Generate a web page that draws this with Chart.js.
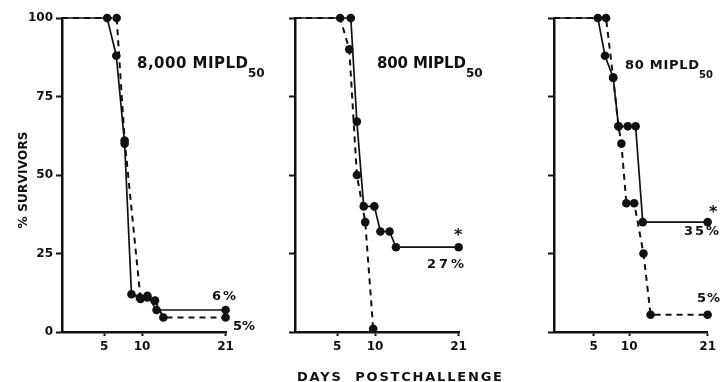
<!DOCTYPE html>
<html>
<head>
<meta charset="utf-8">
<script src="https://cdn.jsdelivr.net/npm/chart.js@4"></script>
<style>
  html, body { margin: 0; padding: 0; background: #fff; }
  #wrap { position: relative; width: 720px; height: 382px; }
  #wrap canvas { position: absolute; left: 0; top: 0; }
</style>
</head>
<body>
<div id="wrap">
  <canvas id="c1" width="720" height="382"></canvas>
  <canvas id="c2" width="720" height="382"></canvas>
  <canvas id="c3" width="720" height="382"></canvas>
</div>
<script>
// days postchallenge / % survivors
const xTicks = [5, 10, 21];
const yTicks = [0, 25, 50, 75, 100];

// 8,000 MIPLD50
const p1SolidDays = [5.4, 6.6, 7.7, 8.6, 9.7, 10.7, 11.9, 21];
const p1SolidPct  = [100, 88, 60, 12, 11, 11.5, 7, 7];
const p1DashDays  = [6.65, 7.7, 9.8, 10.7, 11.7, 12.8, 21];
const p1DashPct   = [100, 61, 10.5, 11, 10, 4.6, 4.6];

// 800 MIPLD50
const p2SolidDays = [6.8, 7.6, 8.5, 9.9, 10.7, 11.9, 12.75, 21];
const p2SolidPct  = [100, 67, 40, 40, 32, 32, 27, 27];
const p2DashDays  = [5.4, 6.6, 7.6, 8.7, 9.75];
const p2DashPct   = [100, 90, 50, 35, 1];

// 80 MIPLD50
const p3SolidDays = [5.6, 6.6, 7.75, 8.5, 9.8, 10.9, 11.9, 21];
const p3SolidPct  = [100, 88, 81, 65.5, 65.5, 65.5, 35, 35];
const p3DashDays  = [6.75, 7.75, 8.5, 8.9, 9.6, 10.7, 12.0, 13.0, 21];
const p3DashPct   = [100, 81, 65.5, 60, 41, 41, 25, 5.5, 5.5];

const X_MIN = -0.55, X_MAX = 21.05;
const INK = '#111';
const FONT = '"DejaVu Sans"';

// curves start at the y axis at 100%
function pts(days, pct) {
  return [{ x: X_MIN, y: 100 }].concat(days.map((d, i) => ({ x: d, y: pct[i] })));
}

function lineSet(days, pct, dashed) {
  const data = pts(days, pct);
  return {
    data: data,
    borderColor: INK,
    borderWidth: dashed ? 2 : 1.7,
    borderDash: dashed ? [6, 5] : [],
    pointRadius: data.map((p, i) => i === 0 ? 0 : 4.3),
    pointBackgroundColor: INK,
    pointBorderWidth: 0,
    tension: 0,
    clip: false
  };
}

function drawLabel(ctx, l) {
  ctx.save();
  ctx.fillStyle = INK;
  ctx.font = `bold ${l.size}px ${FONT}`;
  ctx.textBaseline = 'alphabetic';
  ctx.textAlign = 'left';
  ctx.letterSpacing = '0px';
  const w = ctx.measureText(l.text).width;
  const n = l.text.length;
  const gap = l.w && n > 1 ? (l.w - w) / (n - 1) : 0;
  ctx.letterSpacing = gap + 'px';
  if (l.rot) {
    ctx.translate(l.x, l.y);
    ctx.rotate(-Math.PI / 2);
    ctx.fillText(l.text, -(w + (n - 1) * gap) / 2, 0);
  } else {
    ctx.fillText(l.text, l.x, l.y);
  }
  if (l.sub) {
    ctx.letterSpacing = '0px';
    ctx.font = `bold ${l.size - 3}px ${FONT}`;
    ctx.fillText(l.sub, l.x + w + (n - 1) * gap, l.y + 9);
  }
  ctx.restore();
}

function textPlugin(labels) {
  return {
    id: 'texts',
    afterDraw(chart) {
      labels.forEach(l => drawLabel(chart.ctx, l));
    }
  };
}

function makeChart(id, left, datasets, labels, showYLabels) {
  const tickFont = { family: FONT, size: 12, weight: 'bold' };
  new Chart(document.getElementById(id), {
    type: 'line',
    data: { datasets: datasets },
    options: {
      responsive: false,
      animation: false,
      events: [],
      layout: { padding: { left: left - 40, right: 720 - (left + 164), top: 18, bottom: 0 } },
      plugins: { legend: { display: false }, tooltip: { enabled: false } },
      scales: {
        x: {
          type: 'linear', min: X_MIN, max: X_MAX,
          afterBuildTicks: s => { s.ticks = xTicks.map(v => ({ value: v })); },
          afterFit: s => { s.height = 50; },
          grid: { drawOnChartArea: false, drawTicks: true, tickLength: 4, tickColor: INK, tickWidth: 2 },
          border: { display: true, color: INK, width: 2.5 },
          ticks: { color: INK, font: tickFont, padding: 4, maxRotation: 0 }
        },
        y: {
          type: 'linear', min: 0, max: 100,
          afterBuildTicks: s => { s.ticks = yTicks.map(v => ({ value: v })); },
          afterFit: s => { s.width = 40; },
          grid: { drawOnChartArea: false, drawTicks: true, tickLength: 6, tickColor: INK, tickWidth: 2 },
          border: { display: true, color: INK, width: 2.5 },
          ticks: { color: showYLabels ? INK : 'rgba(0,0,0,0)', font: tickFont, padding: 3 }
        }
      }
    },
    plugins: [textPlugin(labels)]
  });
}

makeChart('c1', 62, [
  lineSet(p1SolidDays, p1SolidPct, false),
  lineSet(p1DashDays, p1DashPct, true)
], [
  { text: '8,000 MIPLD', x: 137, y: 68, size: 15, w: 111, sub: '50' },
  { text: '6%', x: 212, y: 300, size: 13, w: 24 },
  { text: '5%', x: 233, y: 330, size: 13, w: 22 },
  { text: '% SURVIVORS', x: 27, y: 180, size: 12, w: 97, rot: true }
], true);

makeChart('c2', 295, [
  lineSet(p2SolidDays, p2SolidPct, false),
  lineSet(p2DashDays, p2DashPct, true)
], [
  { text: '800 MIPLD', x: 377, y: 68, size: 15, w: 89, sub: '50' },
  { text: '*', x: 454, y: 240, size: 16 },
  { text: '27%', x: 427, y: 268, size: 13, w: 37 },
  { text: 'DAYS  POSTCHALLENGE', x: 297, y: 381, size: 13, w: 205 }
], false);

makeChart('c3', 554, [
  lineSet(p3SolidDays, p3SolidPct, false),
  lineSet(p3DashDays, p3DashPct, true)
], [
  { text: '80 MIPLD', x: 625, y: 69, size: 13, w: 74, sub: '50' },
  { text: '*', x: 709, y: 217, size: 16 },
  { text: '35%', x: 684, y: 235, size: 13, w: 35 },
  { text: '5%', x: 697, y: 302, size: 13, w: 23 }
], false);
</script>
</body>
</html>
